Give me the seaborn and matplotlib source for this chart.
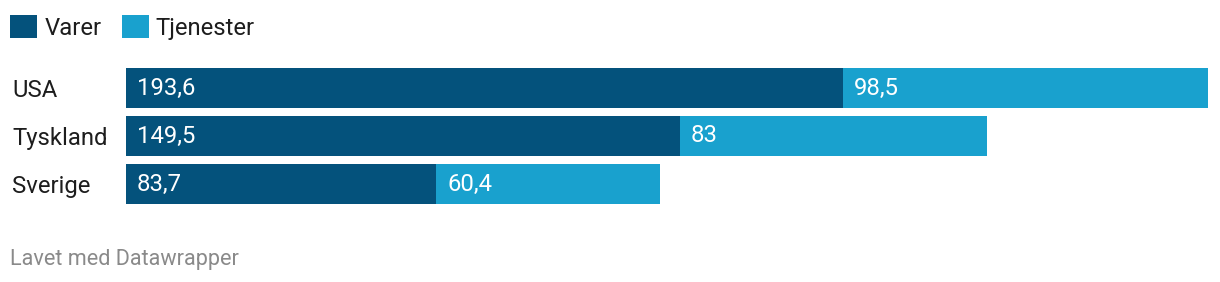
import matplotlib
matplotlib.use("Agg")
import matplotlib.pyplot as plt
import seaborn as sns
import pandas as pd
from matplotlib.patches import Patch
from matplotlib.transforms import offset_copy

lande = ["USA", "Tyskland", "Sverige"]
varer = [193.6, 149.5, 83.7]
tjenester = [98.5, 83, 60.4]
serier = ["Varer", "Tjenester"]
kilde = "Lavet med Datawrapper"

DARK = "#04527c"
LIGHT = "#19a1ce"
TXT = "#1d1d1d"

sns.set_theme(style="white")
plt.rcParams["font.family"] = ["Roboto", "DejaVu Sans"]

df = pd.DataFrame({"land": lande, "Varer": varer, "Tjenester": tjenester})
df["total"] = df["Varer"] + df["Tjenester"]

W, H, DPI = 1220, 282, 100
fig = plt.figure(figsize=(W / DPI, H / DPI), dpi=DPI)
ax = fig.add_axes([126 / W, 1 - 204 / H, (1208 - 126) / W, (204 - 68) / H])

bh = 40 / 48
sns.barplot(data=df, y="land", x="total", color=LIGHT, width=bh, ax=ax,
            saturation=1, orient="h", linewidth=0, edgecolor="none")
sns.barplot(data=df, y="land", x="Varer", color=DARK, width=bh, ax=ax,
            saturation=1, orient="h", linewidth=0, edgecolor="none")

ax.set_xlim(0, df["total"].max())
ax.set_ylim(len(lande) - 0.5 - (1 - bh) / 2, -0.5 + (1 - bh) / 2)
ax.set_xlabel("")
ax.set_ylabel("")
ax.set_xticks([])
for s in ax.spines.values():
    s.set_visible(False)

fs = 17.2
ax.tick_params(axis="y", length=0, pad=(126 - 12) * 72 / DPI)
for lab in ax.get_yticklabels():
    lab.set_ha("left")
    lab.set_fontsize(fs)
    lab.set_color(TXT)

def fmt(v):
    return f"{v:g}".replace(".", ",")

tr = offset_copy(ax.transData, fig=fig, x=11 * 72 / DPI, y=0, units="points")
for i, row in df.iterrows():
    ax.text(0, i, fmt(row["Varer"]), transform=tr, ha="left", va="center",
            color="white", fontsize=fs)
    ax.text(row["Varer"], i, fmt(row["Tjenester"]), transform=tr, ha="left",
            va="center", color="white", fontsize=fs)

handles = [Patch(facecolor=DARK, edgecolor="none"), Patch(facecolor=LIGHT, edgecolor="none")]
fig.legend(handles, serier, loc="upper left", bbox_to_anchor=(10 / W, 1 - 15 / H),
           ncol=2, frameon=False, fontsize=fs, handlelength=1.13, handleheight=1.13,
           handletextpad=0.3, columnspacing=0.85, borderpad=0, borderaxespad=0,
           labelcolor=TXT)

fig.text(10 / W, 1 - 259 / H, kilde, ha="left", va="center", fontsize=15.6,
         color="#8a8a8a")

fig.savefig("out.png", dpi=DPI, facecolor="white")
